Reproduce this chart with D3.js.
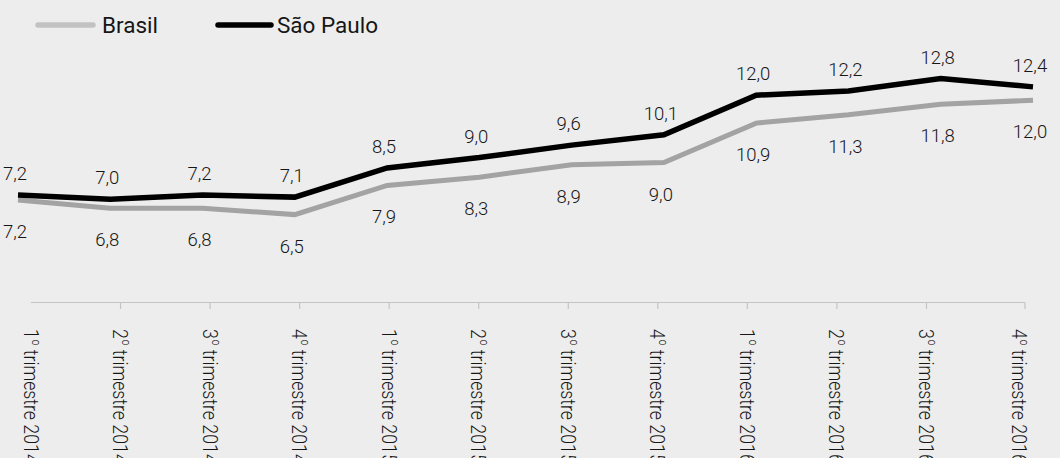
<!DOCTYPE html>
<html lang="pt-BR">
<head>
<meta charset="utf-8">
<title>Taxa de desemprego — Brasil e São Paulo</title>
<script src="https://cdn.jsdelivr.net/npm/d3@7"></script>
<style>
  html, body { margin: 0; padding: 0; background: #ededed; }
  svg { display: block; }
</style>
</head>
<body>
<svg id="chart" width="1060" height="458"></svg>
<script>
// Trimestres (rótulo do trimestre + ano)
const quarters = ["1", "2", "3", "4", "1", "2", "3", "4", "1", "2", "3", "4"];
const years = ["2014", "2014", "2014", "2014", "2015", "2015", "2015", "2015", "2016", "2016", "2016", "2016"];
const categories = quarters.map((q, i) => q + "º trimestre " + years[i]);

// Taxa de desocupação (%)
const brasil = [7.2, 6.8, 6.8, 6.5, 7.9, 8.3, 8.9, 9.0, 10.9, 11.3, 11.8, 12.0];
const saoPaulo = [7.2, 7.0, 7.2, 7.1, 8.5, 9.0, 9.6, 10.1, 12.0, 12.2, 12.8, 12.4];

const seriesNames = ["Brasil", "São Paulo"];

const svg = d3.select("#chart");
const FONT = "Roboto, 'Liberation Sans', sans-serif";

const ptBR = d3.formatLocale({ decimal: ",", thousands: ".", grouping: [3], currency: ["R$", ""] });
const fmt = ptBR.format(".1f");

// Escalas das linhas
const x = d3.scalePoint().domain(categories).range([18, 1033]);
const y = d3.scaleLinear().domain([6, 13]).range([220, 74.4]);

// Escala do eixo de categorias
const xAxisScale = d3.scalePoint().domain(categories).range([31, 1016]);
const axisY = 302.5;
const axisEnd = 1025;
const labelLength = 134;   // comprimento dos rótulos verticais (fonte condensada)

const colors = { brasil: "#a3a3a3", sp: "#000000", legendBrasil: "#c2c2c2", axis: "#c4c4c4", text: "#161616" };

// Eixo horizontal
const axis = svg.append("g").attr("class", "x-axis");
axis.append("line")
  .attr("x1", xAxisScale.range()[0]).attr("x2", axisEnd)
  .attr("y1", axisY).attr("y2", axisY)
  .attr("stroke", colors.axis).attr("stroke-width", 1.2);

const tickXs = categories.slice(1, -1).map(c => xAxisScale(c)).concat([axisEnd]);
axis.selectAll("line.tick").data(tickXs).join("line")
  .attr("class", "tick")
  .attr("x1", d => d).attr("x2", d => d)
  .attr("y1", axisY).attr("y2", axisY + 6.5)
  .attr("stroke", colors.axis).attr("stroke-width", 1.2);

const tickLabels = axis.selectAll("text.cat").data(categories).join("text")
  .attr("class", "cat")
  .attr("font-family", FONT)
  .attr("font-size", 21)
  .attr("font-weight", 300)
  .attr("fill", colors.text);
tickLabels.append("tspan").text((d, i) => quarters[i]);
tickLabels.append("tspan")
  .attr("font-size", 12).attr("dy", -9).attr("dx", 1)
  .text("o");
tickLabels.append("tspan")
  .attr("dy", 9)
  .text((d, i) => " trimestre " + years[i]);

// Rótulos verticais, condensados para caber sob o eixo
tickLabels.each(function (d, i) {
  const len = this.getComputedTextLength();
  const k = len > 0 ? labelLength / len : 1;
  const cx = i === categories.length - 1 ? xAxisScale(d) + 3 : xAxisScale(d);
  d3.select(this).attr("transform", `translate(${cx - 7.5},329) rotate(90) scale(${k},1)`);
});

// Linhas
const line = d3.line().x(d => x(d.c)).y(d => y(d.v));
const brData = categories.map((c, i) => ({ c, v: brasil[i] }));
const spData = categories.map((c, i) => ({ c, v: saoPaulo[i] }));

// A série do Brasil fica levemente abaixo para as duas linhas não se sobreporem
const gBr = svg.append("g").attr("transform", "translate(0,5)");
gBr.append("path").datum(brData)
  .attr("d", line)
  .attr("fill", "none")
  .attr("stroke", colors.brasil)
  .attr("stroke-width", 5);

const gSp = svg.append("g");
gSp.append("path").datum(spData)
  .attr("d", line)
  .attr("fill", "none")
  .attr("stroke", colors.sp)
  .attr("stroke-width", 5.5);

// Rótulos de valor
gSp.selectAll("text").data(spData).join("text")
  .attr("x", d => x(d.c) - 3)
  .attr("y", d => y(d.v) - 15)
  .attr("text-anchor", "middle")
  .attr("font-family", FONT)
  .attr("font-size", 18.5)
  .attr("font-weight", 300)
  .attr("fill", colors.text)
  .text(d => fmt(d.v));

gBr.selectAll("text").data(brData).join("text")
  .attr("x", d => x(d.c) - 3)
  .attr("y", d => y(d.v) + 38)
  .attr("text-anchor", "middle")
  .attr("font-family", FONT)
  .attr("font-size", 18.5)
  .attr("font-weight", 300)
  .attr("fill", colors.text)
  .text(d => fmt(d.v));

// Legenda
const legend = svg.append("g").attr("class", "legend");
const legendItems = [
  { name: seriesNames[0], color: colors.legendBrasil, x0: 38, x1: 93, tx: 102 },
  { name: seriesNames[1], color: colors.sp, x0: 218, x1: 271, tx: 277 }
];
legendItems.forEach(it => {
  legend.append("line")
    .attr("x1", it.x0).attr("x2", it.x1)
    .attr("y1", 25).attr("y2", 25)
    .attr("stroke", it.color).attr("stroke-width", 5.5)
    .attr("stroke-linecap", "round");
  legend.append("text")
    .attr("x", it.tx).attr("y", 33)
    .attr("font-family", FONT)
    .attr("font-size", 22.5)
    .attr("fill", colors.text)
    .text(it.name);
});
</script>
</body>
</html>
